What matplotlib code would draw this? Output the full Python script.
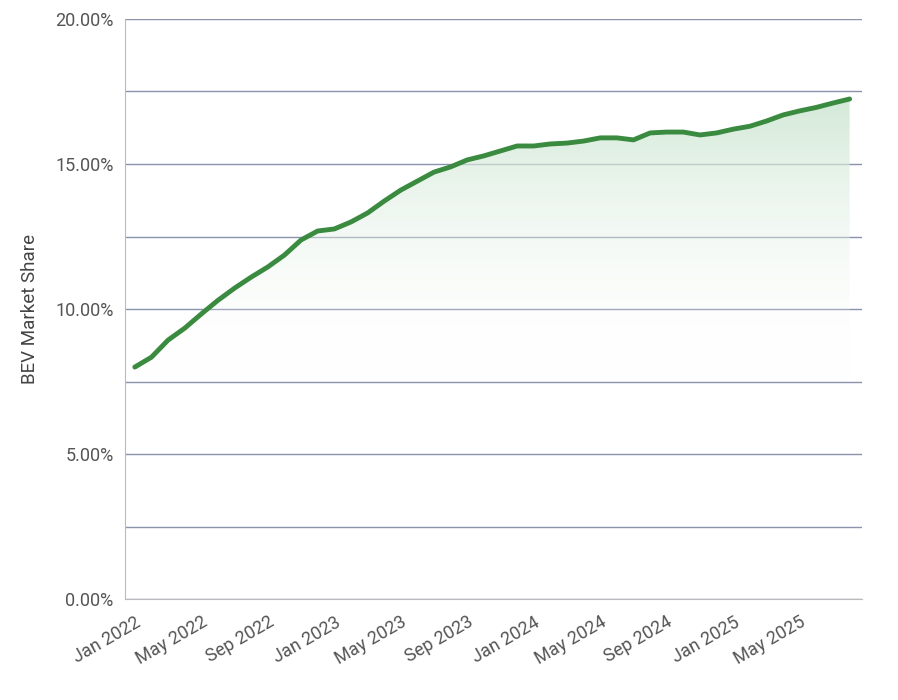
import matplotlib
matplotlib.use("Agg")
import matplotlib.pyplot as plt
import numpy as np
from matplotlib.colors import LinearSegmentedColormap
from matplotlib.patches import Polygon

months = ["Jan","Feb","Mar","Apr","May","Jun","Jul","Aug","Sep","Oct","Nov","Dec"]
labels = [f"{m} {y}" for y in range(2022, 2026) for m in months][:44]
share = [8.0, 8.34, 8.93, 9.34, 9.83, 10.3, 10.72, 11.1, 11.45, 11.86, 12.38, 12.69,
         12.76, 13.0, 13.31, 13.72, 14.1, 14.41, 14.72, 14.9, 15.14, 15.28, 15.45, 15.62,
         15.62, 15.69, 15.72, 15.79, 15.9, 15.9, 15.83, 16.07, 16.1, 16.1, 16.0, 16.07,
         16.2, 16.3, 16.48, 16.69, 16.83, 16.95, 17.1, 17.24]

plt.rcParams['font.family'] = ['Roboto', 'DejaVu Sans']
fig = plt.figure(figsize=(8.98, 7), dpi=100)
ax = fig.add_axes([0.139, 0.144, 0.821, 0.829])
x = np.arange(len(share))
ax.set_xlim(-0.6, len(share) - 1 + 0.75)
ax.set_ylim(0, 20)

grad = np.linspace(0, 1, 256).reshape(-1, 1)
cmap = LinearSegmentedColormap.from_list("g", [(1, 1, 1, 0), (0.80, 0.90, 0.82, 0.85)])
im = ax.imshow(grad, extent=[x[0], x[-1], 7.5, max(share)], origin="lower",
               aspect="auto", cmap=cmap, zorder=1)
poly = Polygon(np.column_stack([np.r_[x, x[-1], x[0]], np.r_[share, 0, 0]]),
               closed=True, transform=ax.transData, facecolor="none", edgecolor="none")
ax.add_patch(poly)
im.set_clip_path(poly)

ax.plot(x, share, color="#3a8a3f", lw=3.5, solid_capstyle="round",
        solid_joinstyle="round", zorder=3)

ax.set_yticks(np.arange(0, 20.1, 2.5))
ax.set_yticklabels([f"{v:.2f}%" if v % 5 == 0 else "" for v in np.arange(0, 20.1, 2.5)])
ax.yaxis.grid(True, color="#8a93ad", lw=1)
ax.set_axisbelow(True)
ax.tick_params(axis="y", length=0, labelsize=13, colors="#555555", pad=8)
ax.set_xticks(x[::4])
ax.set_xticklabels(labels[::4], rotation=30, ha="right", rotation_mode="anchor",
                   fontsize=13, color="#555555")
ax.tick_params(axis="x", length=0, pad=10)
for s in ["top", "right"]:
    ax.spines[s].set_visible(False)
ax.spines["left"].set_color("#bbbbbb")
ax.spines["bottom"].set_color("#bbbbbb")
ax.set_ylabel("BEV Market Share", fontsize=13.5, color="#444444", labelpad=12)
fig.savefig("out.png", dpi=100)
